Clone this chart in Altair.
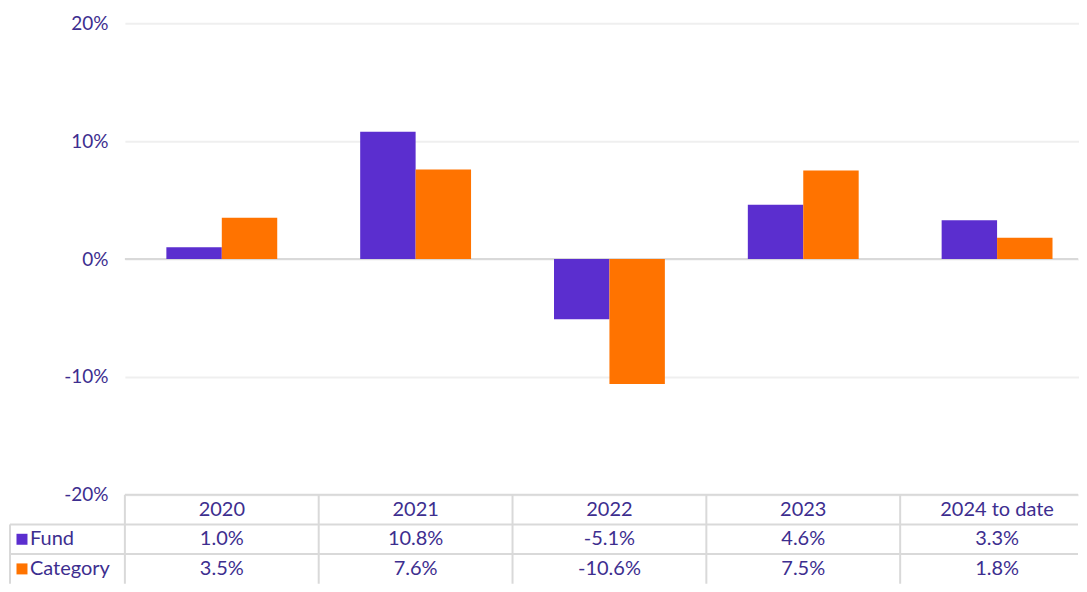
import altair as alt
import pandas as pd

# ---- data ----
years = ["2020", "2021", "2022", "2023", "2024 to date"]
series = ["Fund", "Category"]
fund = [1.0, 10.8, -5.1, 4.6, 3.3]
category = [3.5, 7.6, -10.6, 7.5, 1.8]
colors = ["#5B2ECF", "#FF7300"]
y_ticks = [-20, -10, 0, 10, 20]
row_domain = ["header", "Fund", "Category"]

rows = []
for i, yr in enumerate(years):
    rows.append({"year": yr, "series": "Fund", "row": "Fund", "value": fund[i]})
    rows.append({"year": yr, "series": "Category", "row": "Category", "value": category[i]})
df = pd.DataFrame(rows)
df["label"] = df["value"].map(lambda v: f"{v:.1f}%")

header_df = pd.DataFrame({"year": years, "row": ["header"] * len(years)})
legend_df = pd.DataFrame({"row": series, "series": series})
rows_df = pd.DataFrame({"row": row_domain})

# ---- styling ----
FONT = "Lato"
TXT = "#3D2E8F"
LINE = "#D9D9D9"
FS_AXIS = 19
FS = 20
W = 954          # visible plot width
XR = 970         # full category range (extends past the visible edge)
H = 472
TH = 89

color_scale = alt.Scale(domain=series, range=colors)

# ---- bar chart ----
xscale = alt.Scale(domain=years, range=[0, XR], paddingInner=0.428, paddingOuter=0.214)

zero = alt.Chart(pd.DataFrame({"z": [0]})).mark_rule(color=LINE, strokeWidth=2).encode(
    y=alt.Y("z:Q")
)

bars = alt.Chart(df).mark_bar().encode(
    x=alt.X("year:N", scale=xscale, axis=None, sort=years),
    xOffset=alt.XOffset("series:N", sort=series,
                        scale=alt.Scale(domain=series, paddingInner=0, paddingOuter=0)),
    y=alt.Y("value:Q",
            scale=alt.Scale(domain=[-20, 20], nice=False),
            axis=alt.Axis(values=y_ticks, labelExpr="datum.value + '%'", title=None,
                          ticks=False, domain=False, gridColor="#EFEFEF", gridWidth=2,
                          labelPadding=17, labelColor=TXT, labelFont=FONT,
                          labelFontSize=FS_AXIS)),
    color=alt.Color("series:N", scale=color_scale, legend=None),
)

top = alt.layer(zero, bars).properties(width=W, height=H)

# ---- data table ----
tscale_x = alt.Scale(domain=years, range=[0, XR], paddingInner=0, paddingOuter=0)
tscale_y = alt.Scale(domain=row_domain, paddingInner=0, paddingOuter=0)

vlines = alt.Chart(header_df).mark_rule(color=LINE, strokeWidth=2).encode(
    x=alt.X("year:N", bandPosition=0, scale=tscale_x, axis=None),
    y=alt.value(0),
    y2=alt.value(TH),
)

hline_header = alt.Chart(rows_df).transform_filter("datum.row == 'header'").mark_rule(
    color=LINE, strokeWidth=2).encode(
    y=alt.Y("row:N", bandPosition=0, scale=tscale_y, axis=None),
    x=alt.value(0),
    x2=alt.value(W),
)

hline_rows = alt.Chart(rows_df).transform_filter("datum.row != 'header'").mark_rule(
    color=LINE, strokeWidth=2).encode(
    y=alt.Y("row:N", bandPosition=0, scale=tscale_y, axis=None),
    x=alt.value(-115),
    x2=alt.value(W),
)

left_border = alt.Chart(rows_df).transform_filter("datum.row == 'Fund'").mark_rule(
    color=LINE, strokeWidth=2).encode(
    y=alt.Y("row:N", bandPosition=0, scale=tscale_y, axis=None),
    y2=alt.value(TH),
    x=alt.value(-115),
)

header_text = alt.Chart(header_df).mark_text(
    font=FONT, fontSize=FS, color=TXT, baseline="middle", align="center").encode(
    x=alt.X("year:N", scale=tscale_x, axis=None),
    y=alt.Y("row:N", scale=tscale_y, axis=None),
    text="year:N",
)

value_text = alt.Chart(df).mark_text(
    font=FONT, fontSize=FS, color=TXT, baseline="middle", align="center").encode(
    x=alt.X("year:N", scale=tscale_x, axis=None),
    y=alt.Y("row:N", scale=tscale_y, axis=None),
    text="label:N",
)

legend_sq = alt.Chart(legend_df).mark_square(size=121, opacity=1, filled=True).encode(
    x=alt.value(-103),
    y=alt.Y("row:N", scale=tscale_y, axis=None),
    color=alt.Color("series:N", scale=color_scale, legend=None),
)

legend_txt = alt.Chart(legend_df).mark_text(
    font=FONT, fontSize=FS, color=TXT, baseline="middle", align="left").encode(
    x=alt.value(-95),
    y=alt.Y("row:N", scale=tscale_y, axis=None),
    text="row:N",
)

table = alt.layer(vlines, hline_header, hline_rows, left_border,
                  header_text, value_text, legend_sq, legend_txt).properties(
    width=W, height=TH)

chart = alt.vconcat(top, table, spacing=0, bounds="flush").resolve_scale(
    color="shared").properties(
    padding={"left": 1, "top": 6, "right": 0, "bottom": 0}
).configure_view(strokeWidth=0)

chart.save("out.html", embed_options={"renderer": "svg", "actions": False})
